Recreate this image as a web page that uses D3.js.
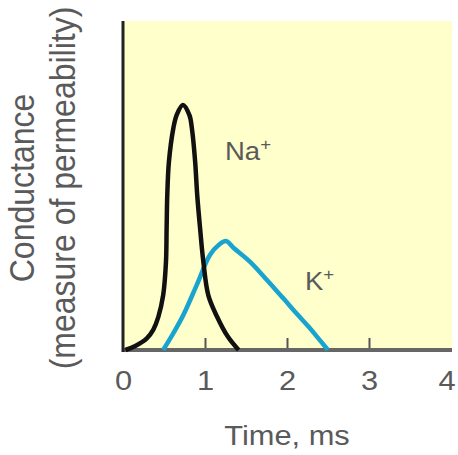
<!DOCTYPE html>
<html><head><meta charset="utf-8">
<script src="https://cdn.jsdelivr.net/npm/d3@7"></script>
<style>html,body{margin:0;padding:0;background:#fff;}svg{display:block;}</style>
</head><body>
<script>
const xTicks = [0, 1, 2, 3, 4];
const xTickLabels = ["0", "1", "2", "3", "4"];
const naTime  = [0.03, 0.15, 0.29, 0.37, 0.43, 0.49, 0.524, 0.532, 0.54, 0.56, 0.614, 0.654, 0.73, 0.81, 0.84, 0.88, 0.905, 0.94, 0.98, 1.04, 1.14, 1.28, 1.41];
const naValue = [0.0, 0.012, 0.035, 0.062, 0.1, 0.167, 0.268, 0.37, 0.471, 0.572, 0.674, 0.714, 0.745, 0.714, 0.674, 0.572, 0.471, 0.37, 0.268, 0.167, 0.105, 0.04, 0.0];
const kTime  = [0.49, 0.6, 0.735, 0.9, 1.06, 1.17, 1.256, 1.35, 1.55, 1.755, 1.955, 2.12, 2.28, 2.4, 2.5];
const kValue = [0.0, 0.045, 0.106, 0.198, 0.289, 0.32, 0.331, 0.31, 0.268, 0.213, 0.157, 0.11, 0.066, 0.03, 0.0];

const W = 458, H = 455;
const L = 123, R = 451, T = 21, B = 350;
const svg = d3.select("body").append("svg").attr("width", W).attr("height", H);
const x = d3.scaleLinear().domain([0, 4]).range([L, R]);
const y = d3.scaleLinear().domain([0, 1]).range([B, T]);
const font = "'Liberation Sans', Arial, sans-serif";
const textColor = "#5a5a5a";

svg.append("rect").attr("x", L).attr("y", T).attr("width", R - L + 1).attr("height", B - T).attr("fill", "#ffffcc");

// x axis
const xAxis = d3.axisBottom(x).tickValues(xTicks).tickSize(-12).tickPadding(16).tickFormat((d, i) => xTickLabels[i]);
const gx = svg.append("g").attr("transform", `translate(0,${B})`).call(xAxis);
gx.select(".domain").remove();
gx.selectAll(".tick line").attr("stroke", "#555").attr("stroke-width", 2)
  .attr("display", d => (d === 0 || d === 4) ? "none" : null);
gx.selectAll(".tick text").attr("fill", textColor).attr("font-family", font).attr("font-size", 28)
  .attr("dy", null).attr("y", 40).attr("x", d => d === 4 ? -4 : 0).attr("transform", "scale(1.1,1)");

svg.append("line").attr("x1", L).attr("x2", R + 1).attr("y1", B).attr("y2", B).attr("stroke", "#666").attr("stroke-width", 4);
svg.append("line").attr("x1", L).attr("x2", L).attr("y1", T).attr("y2", B + 2).attr("stroke", "#222").attr("stroke-width", 3);

// curves
const line = d3.line().x(d => x(d[0])).y(d => y(d[1])).curve(d3.curveCatmullRom.alpha(0.5));
svg.append("path").datum(kTime.map((t, i) => [t, kValue[i]]))
  .attr("d", line).attr("fill", "none").attr("stroke", "#19a3cf").attr("stroke-width", 4.5);
svg.append("path").datum(naTime.map((t, i) => [t, naValue[i]]))
  .attr("d", line).attr("fill", "none").attr("stroke", "#111").attr("stroke-width", 4.5);

// ion labels
function ion(txt, xx, yy) {
  const t = svg.append("text").attr("transform", `translate(${xx},${yy}) scale(1.1,1)`)
    .attr("font-family", font).attr("font-size", 25).attr("fill", textColor);
  t.append("tspan").text(txt);
  t.append("tspan").attr("font-size", 17).attr("dy", -10).text("+");
}
ion("Na", 225, 160);
ion("K", 305, 290);

// x title
svg.append("text").attr("transform", `translate(287,445) scale(1.1,1)`).attr("text-anchor", "middle")
  .attr("font-family", font).attr("font-size", 28).attr("fill", textColor).text("Time, ms");

// y title
const yt = svg.append("g").attr("transform", `translate(0,188) scale(1.1,1) rotate(-90)`);
yt.append("text").attr("x", 0).attr("y", 31).attr("text-anchor", "middle").attr("font-family", font)
  .attr("font-size", 32).attr("fill", textColor).text("Conductance");
yt.append("text").attr("x", 0).attr("y", 68).attr("text-anchor", "middle").attr("font-family", font)
  .attr("font-size", 32).attr("fill", textColor).text("(measure of permeability)");
</script>
</body></html>
